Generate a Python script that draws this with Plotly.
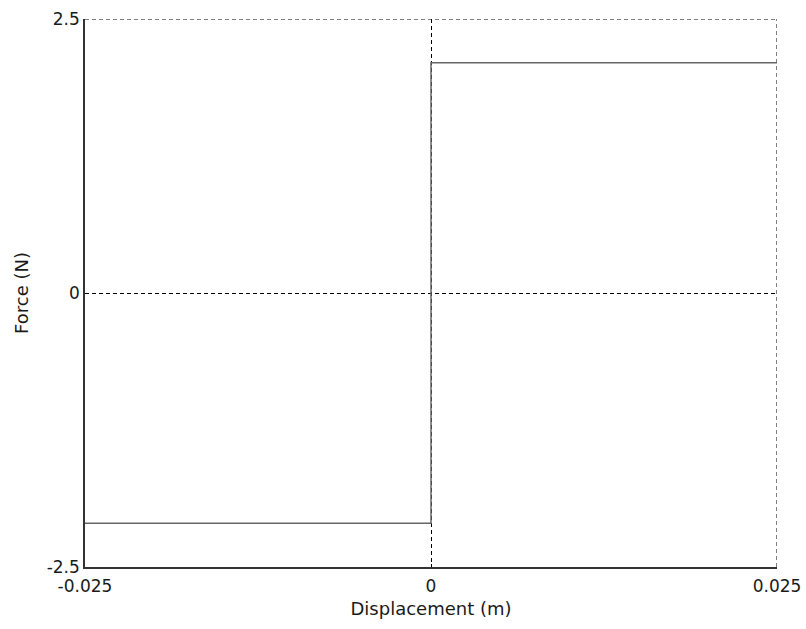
import plotly.graph_objects as go

displacement = [-0.025, 0.0, 0.0, 0.025]
force = [-2.1, -2.1, 2.1, 2.1]
x_ticks = [-0.025, 0, 0.025]
x_tick_labels = ["-0.025", "0", "0.025"]
y_ticks = [-2.5, 0, 2.5]
y_tick_labels = ["-2.5", "0", "2.5"]

fig = go.Figure()
fig.add_trace(go.Scatter(x=displacement, y=force, mode="lines",
                         line=dict(color="#666666", width=1.5), showlegend=False))

dash = "4px,3px"
# dashed grid lines at the upper/right range edges (Plotly omits edge grid lines)
fig.add_shape(type="line", xref="paper", yref="y", x0=0, x1=1, y0=y_ticks[-1], y1=y_ticks[-1],
              line=dict(color="#000000", width=1, dash=dash), layer="below")
fig.add_shape(type="line", xref="x", yref="paper", x0=x_ticks[-1], x1=x_ticks[-1], y0=0, y1=1,
              line=dict(color="#000000", width=1, dash=dash), layer="below")

font = dict(family="DejaVu Sans, sans-serif", size=17, color="#1a1a1a")
title_font = dict(family="DejaVu Sans, sans-serif", size=18, color="#1a1a1a")
fig.update_layout(
    width=806, height=629,
    margin=dict(l=85, r=29, t=19, b=62, autoexpand=False),
    paper_bgcolor="white", plot_bgcolor="white",
    font=font,
    xaxis=dict(range=[-0.025, 0.025], tickvals=x_ticks, ticktext=x_tick_labels,
               showgrid=True, gridcolor="#000000", griddash=dash, gridwidth=1,
               zeroline=False, showline=True, linecolor="#333333", linewidth=1.5,
               ticks="inside", ticklen=3, tickcolor="#000000", tickfont=font,
               ticklabelstandoff=3,
               title=dict(text="Displacement (m)", standoff=7, font=title_font)),
    yaxis=dict(range=[-2.5, 2.5], tickvals=y_ticks, ticktext=y_tick_labels,
               showgrid=True, gridcolor="#000000", griddash=dash, gridwidth=1,
               zeroline=False, showline=True, linecolor="#333333", linewidth=1.5,
               ticks="inside", ticklen=3, tickcolor="#000000", tickfont=font,
               title=dict(text="Force (N)", standoff=13, font=title_font)),
)
fig.write_html("out.html", config={"displayModeBar": False},
               post_script="document.body.style.margin='0';document.body.style.overflow='hidden';")
